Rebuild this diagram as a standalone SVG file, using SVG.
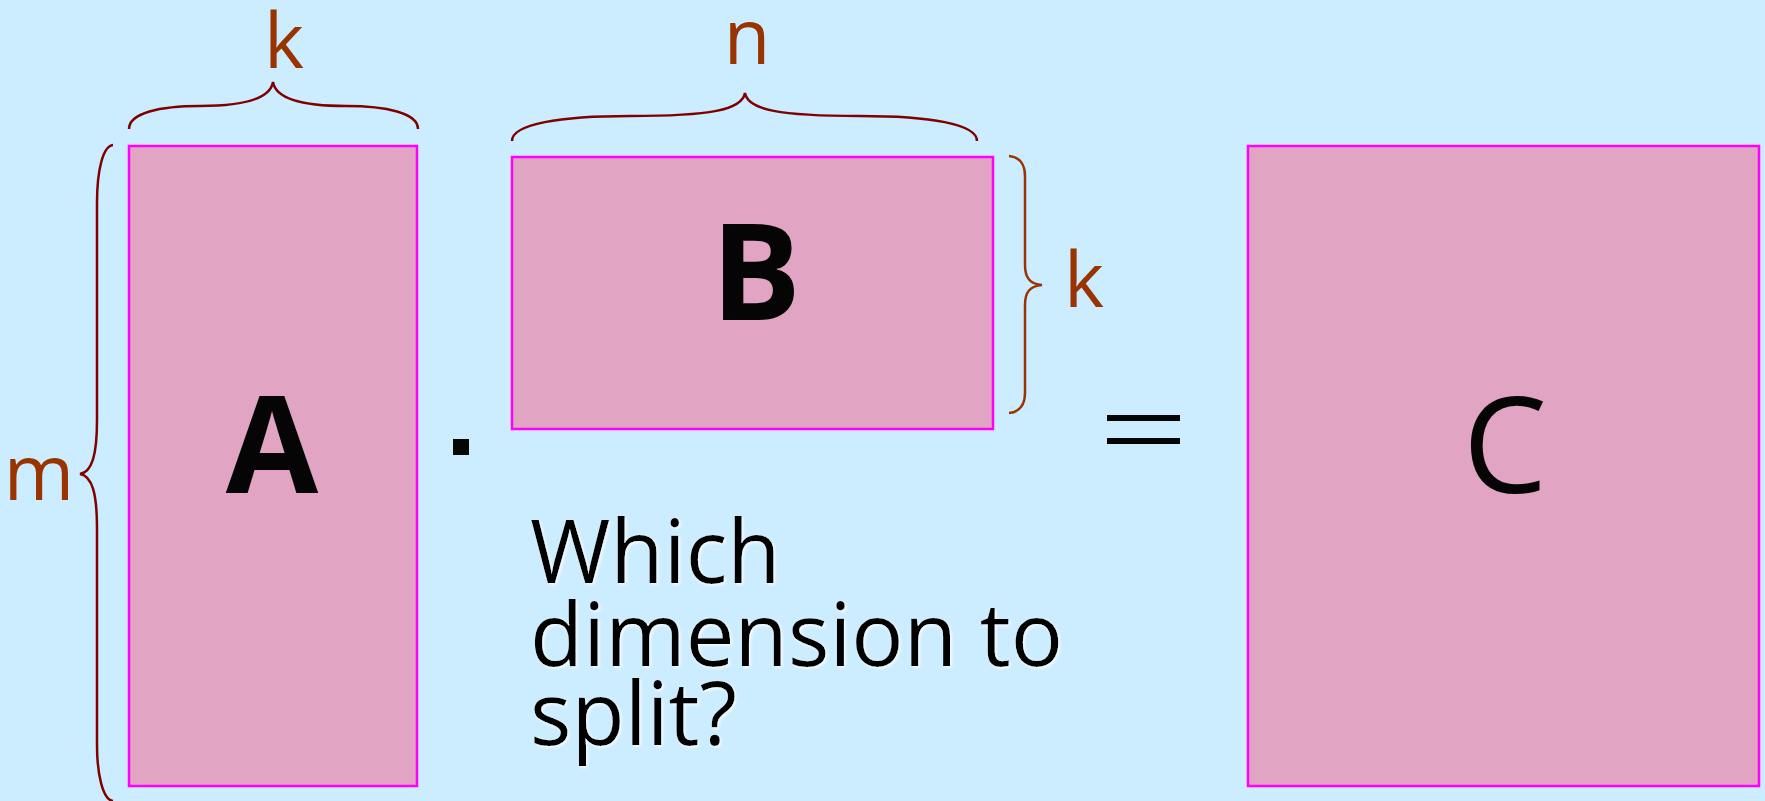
<svg xmlns="http://www.w3.org/2000/svg" width="1765" height="801" viewBox="0 0 1765 801">
<defs>
<style>
.mat{fill:#E1A4C3;stroke:#FF00FF;stroke-width:2.5}
.brace{fill:none;stroke:#800000;stroke-width:2.5}
.braceB{fill:none;stroke:#993300;stroke-width:2.5}
.dim{font-family:"Open Sans","DejaVu Sans",sans-serif;font-size:76px;fill:#993300;text-anchor:middle}
.big{font-family:"Open Sans","DejaVu Sans",sans-serif;font-size:134px;fill:#050505;text-anchor:middle}
.q{font-family:"Open Sans","DejaVu Sans",sans-serif;font-size:87px;fill:#050505}
.op{fill:#050505}
</style>
<filter id="glow" x="-5%" y="-5%" width="110%" height="115%">
<feDropShadow dx="1.5" dy="1.5" stdDeviation="1.5" flood-color="#ffffff" flood-opacity="0.9"/>
</filter>
</defs>
<rect width="1765" height="801" fill="#CCECFF"/>
<g id="matA">
<rect class="mat" x="129" y="146" width="288" height="640"/>
<text class="big" x="272" y="493" font-weight="bold">A</text>
</g>
<g id="matB">
<rect class="mat" x="512" y="157" width="481" height="272"/>
<text class="big" x="756" y="320" font-weight="bold">B</text>
</g>
<g id="matC">
<rect class="mat" x="1248" y="146" width="511" height="640"/>
<text class="big" x="1505" y="493" font-size="136">C</text>
</g>
<g id="operators">
<rect class="op" x="453" y="439" width="16" height="16"/>
<rect class="op" x="1107" y="415" width="73" height="6"/>
<rect class="op" x="1107" y="438" width="73" height="6"/>
</g>
<g id="braces">
<path class="brace" d="M129,129 C129,113 160,106 200,106 C240,106 270,100 273,82 C276,100 306,106 346,106 C386,106 418,113 418,129"/>
<path class="brace" d="M512,141 C512,124 560,116 630,116 C710,116 742,110 745,93 C748,110 780,116 860,116 C930,116 977,124 977,141"/>
<path class="brace" d="M113,145 C103,146 97,170 97,203 L97,420 C97,455 92,472 80,474 C92,476 97,493 97,528 L97,745 C97,775 103,800 113,801"/>
<path class="braceB" d="M1009,156 C1020,157 1025,165 1025,176 L1025,265 C1025,278 1030,284 1042,285 C1030,286 1025,292 1025,305 L1025,393 C1025,404 1020,412 1009,413"/>
</g>
<g id="labels">
<text class="dim" x="284" y="68">k</text>
<text class="dim" x="747" y="64">n</text>
<text class="dim" x="39" y="500">m</text>
<text class="dim" x="1084" y="307">k</text>
</g>
<g id="question" filter="url(#glow)">
<text class="q" x="530" y="583">Which</text>
<text class="q" x="530" y="666">dimension to</text>
<text class="q" x="530" y="745">split?</text>
</g>
</svg>
